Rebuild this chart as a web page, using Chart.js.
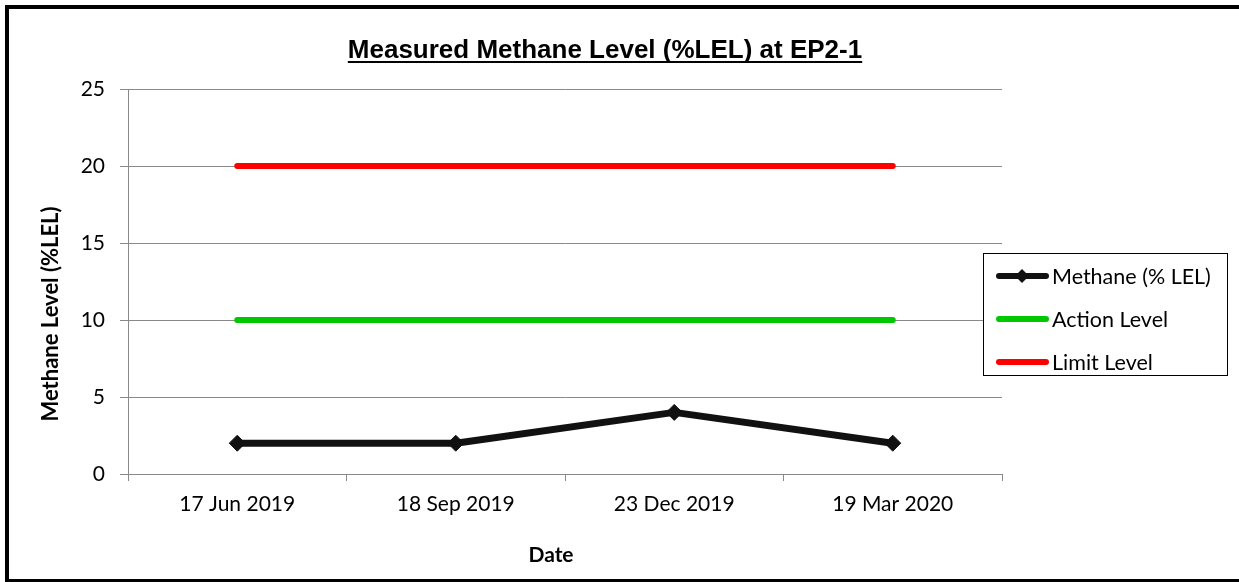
<!DOCTYPE html>
<html>
<head>
<meta charset="utf-8">
<script src="https://cdn.jsdelivr.net/npm/chart.js@4/dist/chart.umd.min.js"></script>
<style>
    html, body { margin: 0; padding: 0; background: #fff; overflow: hidden; }
    #wrap { position: relative; width: 1239px; height: 582px; overflow: hidden; }
    #chart { position: absolute; left: 0; top: 0; }
    #frame {
        position: absolute; left: 5px; top: 5px; width: 1234px; height: 578px;
        box-sizing: border-box; border: 4px solid #000; border-right: none; pointer-events: none;
    }
</style>
</head>
<body>
<div id="wrap">
    <canvas id="chart" width="1239" height="582"></canvas>
    <div id="frame"></div>
</div>
<script>
// Datos
const dates = ['17 Jun 2019', '18 Sep 2019', '23 Dec 2019', '19 Mar 2020'];
const methane = [2, 2, 4, 2];
const actionLevel = [10, 10, 10, 10];
const limitLevel = [20, 20, 20, 20];
const yMin = 0, yMax = 25, yStep = 5;

const chartTitle = 'Measured Methane Level (%LEL) at EP2-1';
const yTitle = 'Methane Level (%LEL)';
const xTitle = 'Date';
const seriesNames = ['Methane (% LEL)', 'Action Level', 'Limit Level'];
const seriesColors = ['#111111', '#00C800', '#FF0000'];

const GRID = '#898989';
const FONT = 'Lato, "Open Sans", sans-serif';

// Títulos y leyenda dibujados a mano (el título va subrayado y la leyenda se monta sobre el área)
const decorPlugin = {
    id: 'decor',
    afterDraw(chart) {
        const ctx = chart.ctx;
        ctx.save();
        ctx.fillStyle = '#000';

        // título principal subrayado, ajustado al ancho del original
        ctx.font = 'bold 22px "Liberation Sans", Arial, sans-serif';
        const size = Math.round(22 * 515 / ctx.measureText(chartTitle).width);
        ctx.font = 'bold ' + size + 'px "Liberation Sans", Arial, sans-serif';
        ctx.textAlign = 'center';
        ctx.textBaseline = 'alphabetic';
        ctx.fillText(chartTitle, 605, 58);
        const tw = ctx.measureText(chartTitle).width;
        ctx.fillRect(605 - tw / 2, 61, tw, 2);

        // eje Y
        ctx.font = 'bold 22px ' + FONT;
        ctx.textBaseline = 'middle';
        ctx.save();
        ctx.translate(51, 314);
        ctx.rotate(-Math.PI / 2);
        ctx.fillText(yTitle, 0, 0);
        ctx.restore();

        // eje X
        ctx.font = 'bold 21px ' + FONT;
        ctx.textBaseline = 'alphabetic';
        ctx.fillText(xTitle, 551, 562);

        // leyenda
        const box = { x: 983.5, y: 253.5, w: 244, h: 122 };
        ctx.fillStyle = '#fff';
        ctx.fillRect(box.x, box.y, box.w, box.h);
        ctx.strokeStyle = '#000';
        ctx.lineWidth = 1;
        ctx.strokeRect(box.x, box.y, box.w, box.h);

        const rows = [276, 319, 362];
        ctx.font = '21.5px ' + FONT;
        ctx.textAlign = 'left';
        ctx.textBaseline = 'middle';
        rows.forEach((y, i) => {
            ctx.strokeStyle = seriesColors[i];
            ctx.lineWidth = 6;
            ctx.lineCap = 'round';
            ctx.beginPath();
            ctx.moveTo(999, y);
            ctx.lineTo(1046, y);
            ctx.stroke();
            if (i === 0) {
                ctx.fillStyle = seriesColors[0];
                ctx.beginPath();
                ctx.moveTo(1022, y - 7);
                ctx.lineTo(1029, y);
                ctx.lineTo(1022, y + 7);
                ctx.lineTo(1015, y);
                ctx.closePath();
                ctx.fill();
            }
            ctx.fillStyle = '#000';
            ctx.fillText(seriesNames[i], 1052, y + 1);
        });
        ctx.restore();
    }
};

new Chart(document.getElementById('chart'), {
    type: 'line',
    data: {
        labels: dates,
        datasets: [
            {
                label: seriesNames[0],
                data: methane,
                borderColor: seriesColors[0],
                backgroundColor: seriesColors[0],
                borderWidth: 7,
                pointStyle: 'rectRot',
                pointRadius: 8,
                pointBorderWidth: 1,
                borderJoinStyle: 'round',
                tension: 0
            },
            {
                label: seriesNames[1],
                data: actionLevel,
                borderColor: seriesColors[1],
                borderWidth: 6,
                borderCapStyle: 'round',
                pointRadius: 0,
                tension: 0
            },
            {
                label: seriesNames[2],
                data: limitLevel,
                borderColor: seriesColors[2],
                borderWidth: 6,
                borderCapStyle: 'round',
                pointRadius: 0,
                tension: 0
            }
        ]
    },
    options: {
        responsive: false,
        animation: false,
        events: [],
        layout: { padding: { top: 89, right: 237, bottom: 0, left: 0 } },
        plugins: {
            legend: { display: false },
            title: { display: false },
            tooltip: { enabled: false }
        },
        scales: {
            x: {
                offset: true,
                afterFit(scale) { scale.height = 108; },
                grid: {
                    offset: true,
                    drawOnChartArea: false,
                    drawTicks: true,
                    tickLength: 7,
                    color: GRID
                },
                border: { color: GRID, width: 1 },
                ticks: {
                    color: '#000',
                    padding: 11,
                    maxRotation: 0,
                    font: { family: FONT, size: 21 }
                }
            },
            y: {
                min: yMin,
                max: yMax,
                afterFit(scale) { scale.width = 128; },
                grid: { color: GRID, tickLength: 8 },
                border: { color: GRID, width: 1 },
                ticks: {
                    stepSize: yStep,
                    color: '#000',
                    padding: 15,
                    font: { family: FONT, size: 21 }
                }
            }
        }
    },
    plugins: [decorPlugin]
});
</script>
</body>
</html>
